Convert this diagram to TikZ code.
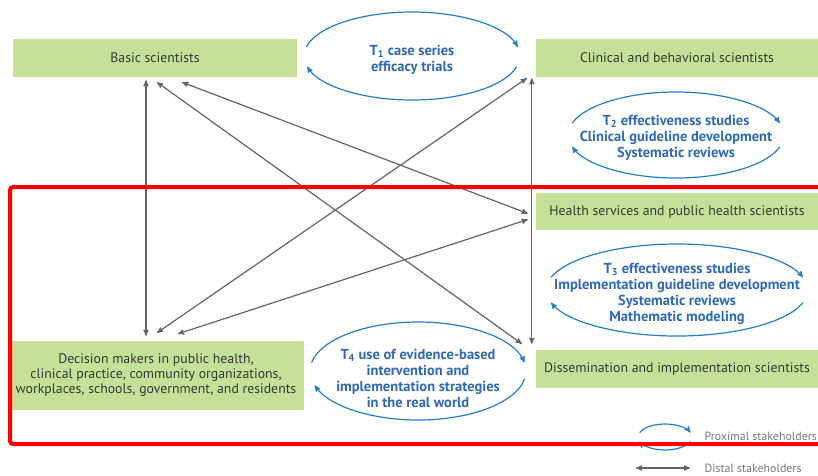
\documentclass[tikz,border=0pt]{standalone}
\usepackage{fontspec}
\setmainfont{PT Sans}
\usepackage{tikz}
\usetikzlibrary{arrows}
\definecolor{boxgreen}{RGB}{197,224,152}
\definecolor{txtgray}{RGB}{55,55,55}
\definecolor{arcblue}{RGB}{35,125,200}
\definecolor{txtblue}{RGB}{45,105,180}
\definecolor{arrgray}{RGB}{100,100,100}
\definecolor{lgdgray}{RGB}{120,120,120}

\begin{document}
\begin{tikzpicture}[x=1pt,y=1pt]
      \tikzstyle{stake} = [fill=boxgreen, text=txtgray, align=center, inner sep=0pt, font=\fontsize{13.8}{15}\selectfont]
      \tikzstyle{phase} = [text=txtblue, align=center, font=\bfseries\fontsize{14.5}{16}\selectfont]
      \tikzstyle{proximal} = [arcblue, line width=1.2pt, -stealth']
      \tikzstyle{distal} = [arrgray, line width=1.2pt, stealth'-stealth']
      \tikzstyle{legend} = [anchor=west, text=lgdgray, font=\fontsize{11.9}{14}\selectfont]
      \useasboundingbox (0,0) rectangle (818,-475);

      % stakeholders
      \node[stake, minimum width=284pt, minimum height=38pt] (basic) at (155,-58) {Basic scientists};
      \node[stake, minimum width=282pt, minimum height=38pt] (clinical) at (677,-58) {Clinical and behavioral scientists};
      \node[stake, minimum width=282pt, minimum height=37pt] (health) at (677,-211.5) {Health services and public health scientists};
      \node[stake, minimum width=282pt, minimum height=38pt] (dissem) at (677,-369) {Dissemination and implementation scientists};
      \node[stake, minimum width=296pt, minimum height=69pt] (decision) at (156,-375.5)
        {Decision makers in public health,\\clinical practice, community organizations,\\workplaces, schools, government, and residents};

      % translation phases
      \node[phase] (t1) at (412,-60) {T\textsubscript{1} case series\\efficacy trials};
      \node[phase] (t2) at (676,-138) {T\textsubscript{2} effectiveness studies\\Clinical guideline development\\Systematic reviews};
      \node[phase] (t3) at (677,-294) {T\textsubscript{3} effectiveness studies\\Implementation guideline development\\Systematic reviews\\Mathematic modeling};
      \node[phase] (t4) at (418,-378) {T\textsubscript{4} use of evidence-based\\intervention and\\implementation strategies\\in the real world};

      \foreach \cx/\cy/\rx/\ry/\ta/\tb/\ba/\bb in {412/56/108/44/168/12/-14/-166,
          676/135/108/43/164/16/-16/-164, 677/290/131/46/164/16/-16/-164,
          418/371/108/49/170/10/-9/-163, 665/437/27/13/160/20/-20/-160}{
        \draw[proximal] (\cx,-\cy) ++(\ta:\rx pt and \ry pt) arc (\ta:\tb:\rx pt and \ry pt);
        \draw[proximal] (\cx,-\cy) ++(\ba:\rx pt and \ry pt) arc (\ba:\bb:\rx pt and \ry pt);
      }

      % distal links
      \draw[distal] ([xshift=-9pt,yshift=-3pt]basic.south) -- ([xshift=-10pt,yshift=5pt]decision.north);
      \draw[distal] ([xshift=-4pt,yshift=-1pt]clinical.south west) -- ([xshift=-4pt,yshift=6pt]dissem.north west);
      \draw[distal] ([xshift=2pt,yshift=-5pt]basic.south) -- ([xshift=-14pt,yshift=6pt]dissem.north west);
      \draw[distal] ([xshift=27pt,yshift=-5pt]basic.south) -- ([xshift=-8pt,yshift=-2pt]health.west);
      \draw[distal] ([xshift=-9pt,yshift=-1pt]clinical.south west) -- ([xshift=1pt,yshift=8pt]decision.north);
      \draw[distal] ([xshift=-8pt,yshift=-8pt]health.west) -- ([xshift=22pt,yshift=7pt]decision.north);

      % legend
      \node[legend] (proxlbl) at (701,-436) {Proximal stakeholders};
      \node[legend] (distlbl) at (701,-468) {Distal stakeholders};
      \coordinate (distend) at (636,-468);
      \draw[distal] (distend) -- ([xshift=-11pt]distlbl.west);

      \draw[red, line width=4pt, rounded corners=3pt] (10,-187) rectangle (826,-444);
\end{tikzpicture}
\end{document}
